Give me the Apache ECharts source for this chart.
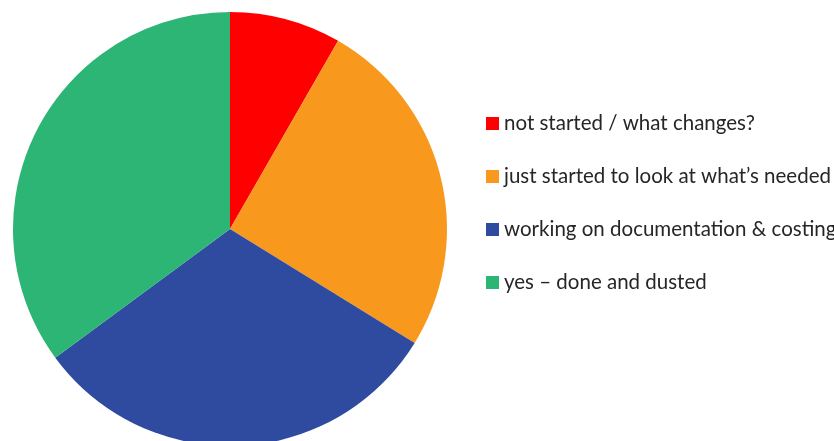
<!DOCTYPE html>
<html>
<head>
<meta charset="utf-8">
<script src="https://cdn.jsdelivr.net/npm/echarts@6/dist/echarts.min.js"></script>
<style>
    html, body { margin: 0; padding: 0; background: #fff; }
    #chart { width: 834px; height: 441px; }
</style>
</head>
<body>
<div id="chart"></div>
<script>
    // answers to the survey question (share of responses, %)
    const categories = [
        'not started / what changes?',
        'just started to look at what’s needed',
        'working on documentation & costings',
        'yes – done and dusted'
    ]
    const shares = [8.3, 25.5, 31.1, 35.1]
    const colors = ['#ff0000', '#f8991d', '#2f4b9f', '#2cb574']

    let chart = echarts.init(document.getElementById('chart'))
    chart.setOption({
        animation: false,
        color: colors,
        legend: {
            orient: 'vertical',
            left: 481,
            top: 108,
            itemWidth: 13,
            itemHeight: 13,
            itemGap: 32,
            itemTextGap: 5,
            icon: 'rect',
            textStyle: {
                fontFamily: 'Lato',
                fontSize: 20.5,
                color: '#262626'
            },
            data: categories
        },
        series: [{
            type: 'pie',
            center: [230, 229],
            radius: 217,
            startAngle: 90,
            label: { show: false },
            labelLine: { show: false },
            data: categories.map((name, i) => ({ name: name, value: shares[i] }))
        }]
    })
</script>
</body>
</html>
